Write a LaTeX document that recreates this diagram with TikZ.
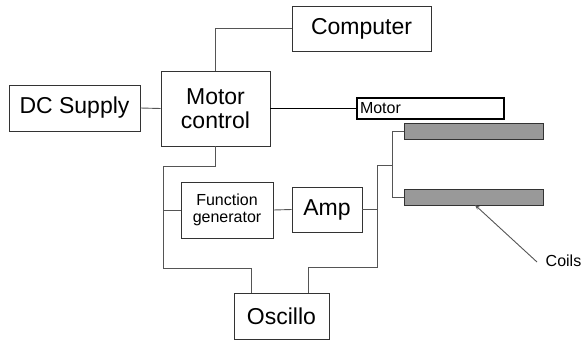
\documentclass[tikz,border=0pt]{standalone}
\usepackage{fontspec}
\setmainfont{Liberation Sans}
\usetikzlibrary{arrows.meta}
\definecolor{linec}{HTML}{555555}
\definecolor{boxc}{HTML}{333333}
\definecolor{coilc}{HTML}{999999}
\begin{document}
\begin{tikzpicture}[x=1pt,y=-1pt,
  box/.style={draw=boxc,line width=0.9pt,fill=white,inner sep=0pt,font=\fontsize{23}{26}\selectfont,align=center},
  smallbox/.style={box,font=\fontsize{16}{20}\selectfont},
  coil/.style={draw=boxc,line width=0.8pt,fill=coilc,inner sep=0pt,minimum width=139pt,minimum height=16pt},
  wire/.style={draw=linec,line width=0.9pt},
  thickwire/.style={draw=black,line width=1.8pt}]
\useasboundingbox (0,0) rectangle (584,340);
\node[box,minimum width=139pt,minimum height=45pt] (comp) at (361.5,28.5) {Computer};
\node[box,minimum width=131pt,minimum height=46pt] (dc) at (74.5,108) {DC Supply};
\node[box,minimum width=109pt,minimum height=75pt] (mc) at (215.5,108.5) {Motor\\[-2pt]control};
\node[draw=black,line width=2pt,fill=white,inner sep=0pt,minimum width=147pt,minimum height=21pt,
  font=\fontsize{16}{20}\selectfont,text width=141pt,align=left] (motor) at (430.5,108.5) {Motor};
\node[coil] (c1) at (473.5,131) {};
\node[coil] (c2) at (473.5,197) {};
\node[smallbox,minimum width=92pt,minimum height=56pt] (fg) at (227,210) {Function\\[-3pt]generator};
\node[box,minimum width=70pt,minimum height=45pt] (amp) at (327,209.5) {Amp};
\node[box,minimum width=95pt,minimum height=46pt] (osc) at (281.5,316) {Oscillo};
\node[font=\fontsize{16}{20}\selectfont,inner sep=0pt] (coils) at (563.5,261) {Coils};
\coordinate (la) at (163,166);
\coordinate (lb) at (163,268);
\coordinate (ra) at (377,165);
\coordinate (rb) at (377,267);
\coordinate (ca) at (392,131);
\coordinate (cb) at (392,197);
\coordinate (ct) at (475,205);
\coordinate (cs) at (537,262);
% wires
\draw[wire] (dc.east) -- (mc.west);
\draw[wire] (mc.north) |- (comp.west);
\draw[thickwire] (mc.east) -- (motor.west);
\draw[wire] (mc.south) |- (la) -- (lb) -| (osc.north -| 251,0);
\draw[wire] (fg.west) -- (fg.west -| la);
\draw[wire] (fg.east) -- (amp.west);
\draw[wire] (amp.east) -- (amp.east -| ra);
\draw[wire] (ra) -- (rb) -| (osc.north -| 308,0);
\draw[wire] (ra) -- (ra -| ca);
\draw[wire] (ca) -- (cb);
\draw[wire] (ca) -- (c1.west);
\draw[wire] (cb) -- (c2.west);
\draw[wire,-{Stealth[length=5pt,width=4pt]}] (cs) -- (ct);
\end{tikzpicture}
\end{document}
